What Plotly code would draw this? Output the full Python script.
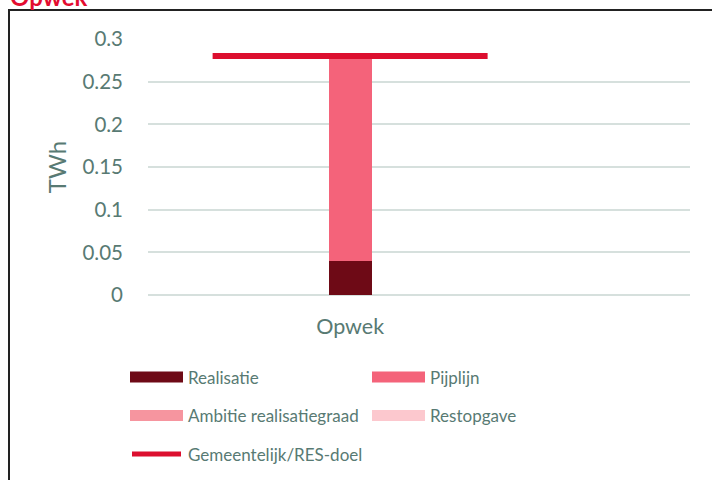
import plotly.graph_objects as go

categories = ["Opwek"]
series_names = ["Realisatie", "Pijplijn", "Ambitie realisatiegraad", "Restopgave"]
realisatie = [0.04]
pijplijn = [0.24]
ambitie = [0.0]
restopgave = [0.0]
doel_name = "Gemeentelijk/RES-doel"
doel = [0.28]
y_ticks = [0, 0.05, 0.1, 0.15, 0.2, 0.25, 0.3]
y_ticklabels = ["0", "0.05", "0.1", "0.15", "0.2", "0.25", "0.3"]

colors = ["#6E0A16", "#F4637A", "#F6959F", "#FCC8CE"]
line_color = "#DC0F2F"
text_color = "#587A73"
grid_color = "#D6E0DD"
FONT = "Lato, Open Sans, sans-serif"

W, H = 712, 480
L, R, T, B = 148, 22, 39, 185
pw, ph = W - L - R, H - T - B

def px(x):
    return (x - L) / pw

def py(y):
    return (H - B - y) / ph

idx = list(range(len(categories)))
fig = go.Figure()
for name, vals, col in zip(series_names, [realisatie, pijplijn, ambitie, restopgave], colors):
    fig.add_trace(go.Bar(x=idx, y=vals, name=name, marker=dict(color=col, line=dict(width=0)),
                         width=0.156, showlegend=False))
# target line spanning the category slot
lx, ly = [], []
for i, v in zip(idx, doel):
    lx += [i - 0.5, i + 0.5, None]
    ly += [v, v, None]
fig.add_trace(go.Scatter(x=lx, y=ly, mode="lines", name=doel_name,
                         line=dict(color=line_color, width=6), showlegend=False))

fig.update_layout(
    width=W, height=H, barmode="stack",
    margin=dict(l=L, r=R, t=T, b=B),
    paper_bgcolor="white", plot_bgcolor="white",
    font=dict(family=FONT, color=text_color),
    showlegend=False,
    xaxis=dict(range=[-0.735, 1.236], tickvals=idx, ticktext=categories,
               tickfont=dict(size=21.5, color=text_color), showgrid=False,
               zeroline=False, showline=False, ticks="", ticklabelstandoff=16, fixedrange=True),
    yaxis=dict(range=[0, 0.3], tickvals=y_ticks, ticktext=y_ticklabels,
               tickfont=dict(size=20.5, color=text_color), showgrid=True,
               gridcolor=grid_color, gridwidth=1.5, zeroline=True, zerolinecolor=grid_color,
               zerolinewidth=1.5, showline=False, ticks="", ticklabelstandoff=24,
               title=dict(text="TWh", font=dict(size=24, color=text_color), standoff=9)),
)

shapes = []
annotations = []
# outer frame
shapes.append(dict(type="rect", xref="paper", yref="paper", x0=px(9), x1=px(W + 20),
                   y0=py(H + 20), y1=py(10), line=dict(color="#222222", width=2), layer="above"))
# title
annotations.append(dict(text="<b>Opwek</b>", xref="paper", yref="paper", x=px(8), y=py(13.5),
                        xanchor="left", yanchor="bottom", showarrow=False,
                        font=dict(size=24, color="#E30C2F", family=FONT)))
# legend
leg_pos = [(130, 377), (372, 377), (130, 415.5), (372, 415.5)]
for (lx0, ly0), name, col in zip(leg_pos, series_names, colors):
    shapes.append(dict(type="rect", xref="paper", yref="paper", x0=px(lx0), x1=px(lx0 + 53),
                       y0=py(ly0 + 5.5), y1=py(ly0 - 5.5), fillcolor=col, line=dict(width=0)))
    annotations.append(dict(text=name, xref="paper", yref="paper", x=px(lx0 + 56), y=py(ly0),
                            xanchor="left", yanchor="middle", showarrow=False,
                            font=dict(size=17, color=text_color, family=FONT)))
shapes.append(dict(type="line", xref="paper", yref="paper", x0=px(132), x1=px(181),
                   y0=py(454), y1=py(454), line=dict(color=line_color, width=5)))
annotations.append(dict(text=doel_name, xref="paper", yref="paper", x=px(186), y=py(454),
                        xanchor="left", yanchor="middle", showarrow=False,
                        font=dict(size=17, color=text_color, family=FONT)))
fig.update_layout(shapes=shapes, annotations=annotations)

fig.write_html("out.html", config={"displayModeBar": False},
               post_script="document.body.style.margin='0';document.body.style.overflow='hidden';")
